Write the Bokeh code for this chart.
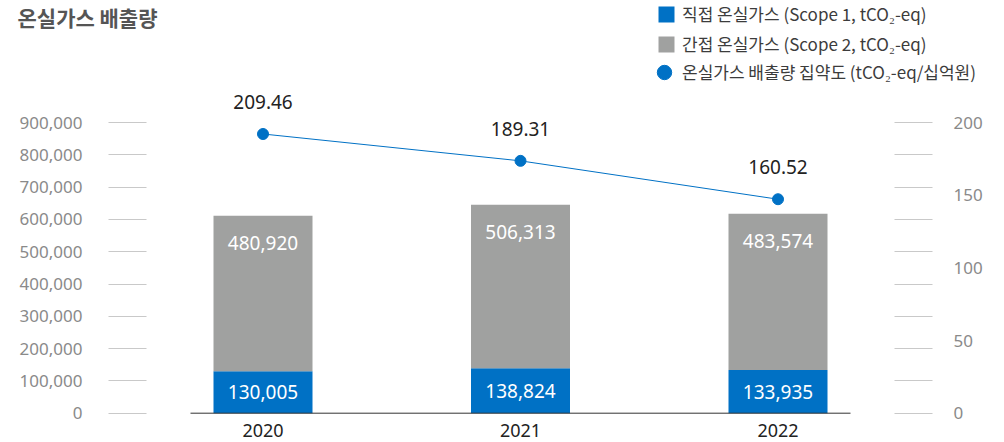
from bokeh.plotting import figure
from bokeh.models import (Range1d, LinearAxis, FixedTicker, NumeralTickFormatter,
                          ColumnDataSource, Legend, LegendItem, Label)
from bokeh.embed import file_html
from bokeh.resources import INLINE
from bokeh.core.properties import value

# ---------------- data ----------------
years = [2020, 2021, 2022]
year_labels = ["2020", "2021", "2022"]
scope1 = [130005, 138824, 133935]
scope2 = [480920, 506313, 483574]
intensity = [209.46, 189.31, 160.52]
left_ticks = [0, 100000, 200000, 300000, 400000, 500000, 600000, 700000, 800000, 900000]
right_ticks = [0, 50, 100, 150, 200]
title_text = "온실가스 배출량"
legend_labels = ["직접 온실가스 (Scope 1, tCO₂-eq)",
                 "간접 온실가스 (Scope 2, tCO₂-eq)",
                 "온실가스 배출량 집약도 (tCO₂-eq/십억원)"]

# ---------------- style / layout ----------------
BLUE = "#0071C5"
GRAY = "#A0A1A0"
TICK = "#C9C9C9"
AXTXT = "#8A8A8A"
DARK = "#222222"
NUMF = "Noto Sans"
KRF = "Noto Sans CJK KR"

W, H = 1004, 442
ZERO_Y = 412.7             # pixel row of zero line (from top)
PX_L = 290.7 / 900000      # px per unit, left axis
PX_I = 1.333               # px per unit, intensity line
PX_X = 257.5               # px per year
FIRST_X = 262.5            # pixel of first category centre
AX_L = 146                 # pixel of left tick start
AX_R = 894                 # pixel of right tick start

x_start = years[0] - FIRST_X / PX_X
x_end = x_start + W / PX_X
y0 = -(H - ZERO_Y) / PX_L
y1 = ZERO_Y / PX_L
k = right_ticks[-1] / left_ticks[-1]

p = figure(width=W, height=H, output_backend="svg", toolbar_location=None,
           x_range=Range1d(x_start, x_end), y_range=Range1d(y0, y1),
           min_border=0, min_border_left=0, min_border_right=0,
           min_border_top=0, min_border_bottom=0,
           x_axis_type=None, y_axis_type=None)
p.extra_y_ranges = {"right": Range1d(y0 * k, y1 * k),
                    "line": Range1d(-(H - ZERO_Y) / PX_I, ZERO_Y / PX_I)}
p.outline_line_color = None
p.background_fill_color = "white"
p.border_fill_color = "white"

total = [a + b for a, b in zip(scope1, scope2)]
src = ColumnDataSource(dict(
    x=years, s1=scope1, s2=scope2, tot=total,
    s1mid=[v / 2 for v in scope1],
    s1txt=[f"{v:,}" for v in scope1],
    s2txt=[f"{v:,}" for v in scope2],
    inten=intensity,
    itxt=[f"{v:.2f}" for v in intensity],
    ylab=year_labels,
    zero=[0] * len(years),
))

bw = 99 / PX_X
r1 = p.vbar(x="x", width=bw, bottom=0, top="s1", source=src, fill_color=BLUE, line_color=None)
r2 = p.vbar(x="x", width=bw, bottom="s1", top="tot", source=src, fill_color=GRAY, line_color=None)

# baseline
bpad = 72.5 / PX_X
p.segment(x0=min(years) - bpad, y0=0, x1=max(years) + bpad, y1=0, line_color="#333333", line_width=1)

# intensity line
p.line(x="x", y="inten", source=src, y_range_name="line", line_color=BLUE, line_width=1)
r3 = p.scatter(x="x", y="inten", source=src, y_range_name="line", size=11,
               fill_color=BLUE, line_color=BLUE, marker="circle")

# value labels
p.text(x="x", y="s1mid", text="s1txt", source=src, text_color="white",
       text_align="center", text_baseline="middle", text_font=value(NUMF), text_font_size="19px")
p.text(x="x", y="tot", text="s2txt", source=src, text_color="white", y_offset=27,
       text_align="center", text_baseline="middle", text_font=value(NUMF), text_font_size="19px")
p.text(x="x", y="inten", text="itxt", source=src, y_range_name="line", text_color=DARK, y_offset=-32,
       text_align="center", text_baseline="middle", text_font=value(NUMF), text_font_size="19px")
# year labels below baseline
p.text(x="x", y="zero", text="ylab", source=src, text_color=DARK, y_offset=17,
       text_align="center", text_baseline="middle", text_font=value(NUMF), text_font_size="18px")

# left axis
la = LinearAxis(ticker=FixedTicker(ticks=left_ticks, minor_ticks=[]),
                formatter=NumeralTickFormatter(format="0,0"),
                fixed_location=years[0] - (FIRST_X - AX_L) / PX_X)
la.axis_line_color = None
la.major_tick_in = 0
la.major_tick_out = 38
la.major_tick_line_color = TICK
la.minor_tick_line_color = None
la.major_label_standoff = 26
la.major_label_text_font = NUMF
la.major_label_text_font_size = "17px"
la.major_label_text_color = AXTXT
p.add_layout(la, "left")

# right axis
ra = LinearAxis(y_range_name="right",
                ticker=FixedTicker(ticks=right_ticks, minor_ticks=[t * k for t in left_ticks]),
                fixed_location=years[0] - (FIRST_X - AX_R) / PX_X)
ra.axis_line_color = None
ra.major_tick_in = 0
ra.major_tick_out = 0
ra.minor_tick_in = 0
ra.minor_tick_out = 38
ra.minor_tick_line_color = TICK
ra.major_label_standoff = 21
ra.major_label_text_font = NUMF
ra.major_label_text_font_size = "17px"
ra.major_label_text_color = AXTXT
p.add_layout(ra, "right")

# title
p.add_layout(Label(x=17, y=H - 16, x_units="screen", y_units="screen", text=title_text,
                   text_font=KRF, text_font_size="21px", text_font_style="bold",
                   text_color="#555555", text_baseline="middle"))

# legends
leg1 = Legend(items=[LegendItem(label=legend_labels[0], renderers=[r1]),
                     LegendItem(label=legend_labels[1], renderers=[r2])],
              location=(656, H - 56), glyph_width=20, glyph_height=20, label_standoff=6,
              spacing=5, padding=0, margin=0, border_line_color=None, background_fill_alpha=0,
              label_text_font=KRF, label_text_font_size="17px", label_text_color="#3C3C3C")
leg2 = Legend(items=[LegendItem(label=legend_labels[2], renderers=[r3])],
              location=(646, H - 90.5), glyph_width=36, glyph_height=38, label_standoff=0,
              spacing=0, padding=0, margin=0, border_line_color=None, background_fill_alpha=0,
              label_text_font=KRF, label_text_font_size="17px", label_text_color="#3C3C3C")
p.add_layout(leg1)
p.add_layout(leg2)

open("out.html", "w").write(file_html(p, INLINE))
